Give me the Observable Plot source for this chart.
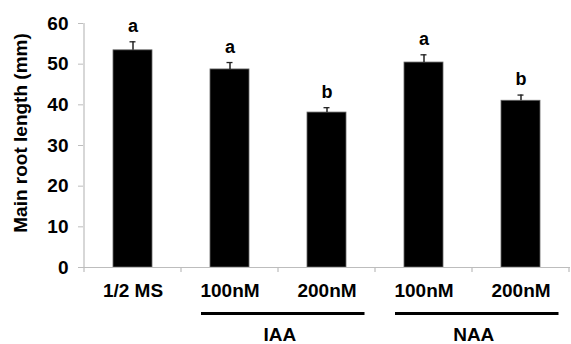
<!DOCTYPE html>
<html>
<head>
<meta charset="utf-8">
<script src="https://cdn.jsdelivr.net/npm/d3@7"></script>
<script src="https://cdn.jsdelivr.net/npm/@observablehq/plot@0.6"></script>
<style>
  html, body { margin: 0; padding: 0; background: #fff; }
  #chart svg { display: block; }
</style>
</head>
<body>
<div id="chart"></div>
<script>
// ---- data ----
const treatments = ["1/2 MS", "IAA 100nM", "IAA 200nM", "NAA 100nM", "NAA 200nM"];
const tickLabels = ["1/2 MS", "100nM", "200nM", "100nM", "200nM"];
const meanLength = [53.4, 48.7, 38.1, 50.4, 41.0];
const errorSE = [2.1, 1.7, 1.2, 1.9, 1.4];
const letters = ["a", "a", "b", "a", "b"];
const groupNames = ["IAA", "NAA"];
const groupFirst = ["IAA 100nM", "NAA 100nM"];
const groupLast = ["IAA 200nM", "NAA 200nM"];
const yTicks = [0, 10, 20, 30, 40, 50, 60];
const yTitle = "Main root length (mm)";

const rows = treatments.map((t, i) => ({
  t, mean: meanLength[i], se: errorSE[i], top: meanLength[i] + errorSE[i], letter: letters[i]
}));

const FONT = '"Liberation Sans", Arial, Helvetica, sans-serif';
const AXIS = "#bdbdbd";

const chart = Plot.plot({
  width: 571,
  height: 344,
  marginTop: 23,
  marginBottom: 77,
  marginLeft: 83,
  marginRight: 1,
  style: { fontFamily: FONT, fontSize: "19px", fontWeight: "bold", color: "#000", background: "#fff" },
  x: { domain: treatments, paddingInner: 0.6, paddingOuter: 0.3 },
  y: { domain: [0, 60] },
  marks: [
    Plot.axisY({ ticks: yTicks, tickSize: 5, tickPadding: 10, stroke: AXIS, fill: "#000",
      fontSize: 19, fontWeight: "bold", label: null }),
    Plot.axisX({ tickSize: 0, tickPadding: 15.5, tickFormat: (d) => tickLabels[treatments.indexOf(d)],
      fontSize: 19, fontWeight: "bold", fill: "#000", label: null }),
    Plot.barY(rows, { x: "t", y: "mean", fill: "#000", stroke: "#666", strokeWidth: 0.8 }),
    Plot.ruleX(rows, { x: "t", y1: "mean", y2: "top", stroke: "#222", strokeWidth: 1.5 }),
    Plot.tickY(rows, { x: "t", y: "top", stroke: "#222", strokeWidth: 1.3, insetLeft: 16.5, insetRight: 16.5 }),
    Plot.text(rows, { x: "t", y: "top", text: "letter", dy: -10, lineAnchor: "bottom",
      fontSize: 18, fontWeight: "bold", fill: "#000" }),
    Plot.ruleY([0], { stroke: AXIS, strokeWidth: 1.2 })
  ]
});

// Axis line, boundary ticks, y title and group bars, placed with the chart's own scales
const xs = chart.scale("x");
const ys = chart.scale("y");
const svg = d3.select(chart);
const step = xs.step, bw = xs.bandwidth;
const gap = (step - bw) / 2;
const y0 = ys.apply(0);
const yTop = ys.apply(d3.max(yTicks));
const g = svg.append("g");
g.append("line").attr("x1", xs.apply(treatments[0]) - gap).attr("x2", xs.apply(treatments[0]) - gap)
  .attr("y1", yTop).attr("y2", y0).attr("stroke", AXIS).attr("stroke-width", 1.2);
const bounds = treatments.map(t => xs.apply(t) - gap).concat([xs.apply(treatments[treatments.length - 1]) + bw + gap]);
g.selectAll("line.bt").data(bounds).join("line").attr("class", "bt")
  .attr("x1", d => d).attr("x2", d => d).attr("y1", y0).attr("y2", y0 + 5)
  .attr("stroke", AXIS).attr("stroke-width", 1.2);
g.append("text")
  .attr("transform", `translate(27,${(y0 + yTop) / 2 - 12}) rotate(-90)`)
  .attr("text-anchor", "middle").attr("font-family", FONT).attr("font-size", 19)
  .attr("font-weight", "bold").attr("fill", "#000").text(yTitle);
groupNames.forEach((name, i) => {
  const x1 = xs.apply(groupFirst[i]) - 9;
  const x2 = xs.apply(groupLast[i]) + bw + 18.5;
  g.append("line").attr("x1", x1).attr("x2", x2).attr("y1", y0 + 46.5).attr("y2", y0 + 46.5)
    .attr("stroke", "#000").attr("stroke-width", 3);
  g.append("text").attr("x", (x1 + x2) / 2 - 3).attr("y", y0 + 74)
    .attr("text-anchor", "middle").attr("font-family", FONT).attr("font-size", 19)
    .attr("font-weight", "bold").attr("fill", "#000").text(name);
});

document.getElementById("chart").appendChild(chart);
</script>
</body>
</html>
